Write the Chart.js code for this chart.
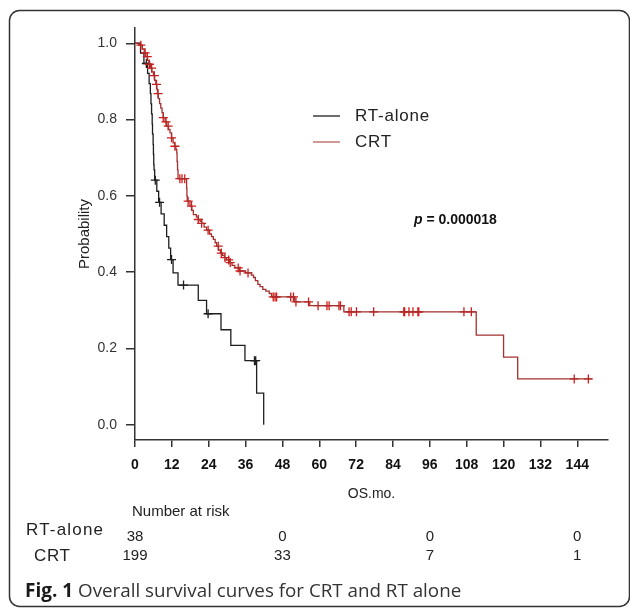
<!DOCTYPE html>
<html><head><meta charset="utf-8">
<script src="https://cdn.jsdelivr.net/npm/chart.js@4"></script>
<style>html,body{margin:0;padding:0;background:#fff;}canvas{display:block;}</style>
</head><body>
<canvas id="c" width="630" height="609"></canvas>
<script>
// ---- data ----
const seriesNames = ['RT-alone', 'CRT'];

// RT-alone Kaplan-Meier steps (months, survival after step)
const rtTimes = [0, 1.8, 2.9, 4.1, 4.6, 5.0, 5.2, 5.4, 5.6, 5.7, 5.9, 6.0, 6.1, 6.2, 6.4, 7.1, 7.7, 8.5, 9.5, 10.3, 11.0, 11.6, 12.4, 14.0, 20.6, 23.3, 28.0, 31.2, 35.8, 39.6, 41.9];
const rtSurv  = [1.0, 0.974, 0.947, 0.921, 0.894, 0.868, 0.841, 0.815, 0.788, 0.762, 0.735, 0.709, 0.682, 0.668, 0.641, 0.612, 0.583, 0.553, 0.523, 0.493, 0.463, 0.433, 0.398, 0.366, 0.326, 0.291, 0.249, 0.208, 0.168, 0.083, 0.0];
const rtCensorTimes = [3.7, 6.6, 8.0, 11.9, 15.8, 23.8, 38.9, 39.3];

// CRT Kaplan-Meier steps
const crtTimes = [0, 1.2, 2.4, 3.0, 3.5, 4.1, 4.5, 5.0, 5.5, 6.0, 6.4, 6.8, 7.1, 7.3, 7.6, 8.0, 8.4, 8.8, 9.2, 9.8, 10.3, 10.9, 11.4, 11.9, 12.4, 12.9, 13.3, 13.6, 13.7, 13.85, 14.0, 16.8, 16.9, 17.0, 17.9, 18.5, 19.0, 20.0, 20.6, 21.2, 21.7, 22.5, 23.3, 24.3, 24.9, 25.5, 26.1, 26.6, 27.2, 27.8, 28.5, 29.1, 29.8, 30.8, 31.6, 32.5, 34.0, 36.0, 37.9, 38.6, 39.2, 40.0, 40.7, 41.6, 42.6, 43.7, 44.5, 52.0, 56.9, 68.0, 111.1, 120.0, 124.6, 148.8];
const crtSurv  = [1.0, 0.995, 0.985, 0.975, 0.965, 0.955, 0.945, 0.935, 0.925, 0.915, 0.903, 0.892, 0.880, 0.868, 0.855, 0.842, 0.830, 0.818, 0.805, 0.794, 0.783, 0.774, 0.765, 0.752, 0.739, 0.730, 0.722, 0.712, 0.690, 0.668, 0.645, 0.620, 0.600, 0.586, 0.573, 0.562, 0.551, 0.544, 0.538, 0.533, 0.528, 0.518, 0.510, 0.500, 0.493, 0.486, 0.477, 0.468, 0.458, 0.450, 0.444, 0.438, 0.432, 0.425, 0.418, 0.411, 0.403, 0.398, 0.392, 0.386, 0.378, 0.368, 0.362, 0.355, 0.350, 0.344, 0.335, 0.322, 0.312, 0.296, 0.235, 0.177, 0.120, 0.120];
const crtCensorTimes = [1.9, 3.3, 4.0, 4.7, 5.4, 6.3, 7.0, 7.5, 9.2, 10.1, 10.8, 11.9, 13.0, 14.6, 15.3, 16.2, 17.3, 18.4, 20.6, 21.7, 23.8, 27.1, 28.1, 29.3, 30.5, 31.0, 33.6, 34.2, 36.8, 45.0, 45.6, 46.1, 50.7, 51.6, 52.4, 56.5, 59.6, 62.5, 63.2, 66.4, 66.9, 69.7, 70.4, 72.1, 77.7, 87.5, 87.8, 89.2, 90.5, 92.1, 92.4, 107.1, 109.5, 143.0, 147.6];

const xTicks = [0, 12, 24, 36, 48, 60, 72, 84, 96, 108, 120, 132, 144];
const yTicks = [0, 0.2, 0.4, 0.6, 0.8, 1.0];

const riskTimes = [0, 48, 96, 144];
const riskRT  = [38, 0, 0, 0];
const riskCRT = [199, 33, 7, 1];

const pLabel = 'p';
const pValue = ' = 0.000018';
const captionBold = 'Fig. 1';
const captionText = ' Overall survival curves for CRT and RT alone';

// ---- helpers ----
function stepPoints(times, surv) { return times.map((t, i) => ({ x: t, y: surv[i] })); }
function survAt(times, surv, t) {
  let s = surv[0];
  for (let i = 0; i < times.length; i++) { if (times[i] <= t) s = surv[i]; else break; }
  return s;
}
function censorPoints(times, surv, ct) { return ct.map(t => ({ x: t, y: survAt(times, surv, t) })); }

const FONT = "'Liberation Sans', Arial, Helvetica, sans-serif";
const CAPFONT = "'Open Sans', 'Liberation Sans', sans-serif";
const RT_COLOR = '#1e1e1e';
const CRT_LINE = '#a3312f';
const CRT_MARK = '#d41a1a';

const annot = {
  id: 'annot',
  afterDraw(chart) {
    const ctx = chart.ctx;
    const xs = chart.scales.x;
    ctx.save();
    // frame
    ctx.strokeStyle = '#333';
    ctx.lineWidth = 1.5;
    ctx.beginPath();
    ctx.roundRect(9.5, 10.5, 620, 596, 10);
    ctx.stroke();

    // legend
    ctx.lineWidth = 1.3;
    ctx.strokeStyle = RT_COLOR;
    ctx.beginPath(); ctx.moveTo(313, 116); ctx.lineTo(340, 116); ctx.stroke();
    ctx.strokeStyle = '#b5625e';
    ctx.beginPath(); ctx.moveTo(313, 142); ctx.lineTo(340, 142); ctx.stroke();
    ctx.fillStyle = '#222';
    ctx.font = '17px ' + FONT;
    ctx.textAlign = 'left';
    ctx.textBaseline = 'middle';
    ctx.letterSpacing = '0.8px';
    ctx.fillText(seriesNames[0], 355, 116);
    ctx.fillText(seriesNames[1], 355, 142);
    ctx.letterSpacing = '0px';

    // p value
    ctx.fillStyle = '#111';
    ctx.font = 'italic bold 14px ' + FONT;
    ctx.fillText(pLabel, 414, 220);
    const pw = ctx.measureText(pLabel).width;
    ctx.font = 'bold 14px ' + FONT;
    ctx.fillText(pValue, 414 + pw, 220);

    // risk table
    ctx.fillStyle = '#222';
    ctx.font = '15px ' + FONT;
    ctx.fillText('Number at risk', 132, 512);
    ctx.font = '17px ' + FONT;
    ctx.letterSpacing = '1.2px';
    ctx.fillText(seriesNames[0], 26, 530);
    ctx.letterSpacing = '0.6px';
    ctx.fillText(seriesNames[1], 34, 556);
    ctx.letterSpacing = '0px';
    ctx.font = '15px ' + FONT;
    ctx.textAlign = 'center';
    riskTimes.forEach((t, i) => {
      const px = xs.getPixelForValue(t);
      ctx.fillText(String(riskRT[i]), px, 537);
      ctx.fillText(String(riskCRT[i]), px, 556);
    });

    // caption
    ctx.textAlign = 'left';
    ctx.fillStyle = '#1a1a1a';
    ctx.font = 'bold 19px ' + CAPFONT;
    ctx.fillText(captionBold, 25, 592);
    const cw = ctx.measureText(captionBold).width;
    ctx.fillStyle = '#333';
    ctx.font = '18.8px ' + CAPFONT;
    ctx.fillText(captionText, 25 + cw, 592);
    ctx.restore();
  }
};

new Chart(document.getElementById('c'), {
  type: 'scatter',
  data: {
    datasets: [
      { label: seriesNames[1], data: stepPoints(crtTimes, crtSurv), showLine: true, stepped: 'before',
        borderColor: CRT_LINE, borderWidth: 1.3, pointRadius: 0, fill: false },
      { label: seriesNames[1] + ' censored', data: censorPoints(crtTimes, crtSurv, crtCensorTimes), showLine: false,
        pointStyle: 'cross', pointRadius: 4.5, borderColor: CRT_MARK, pointBorderColor: CRT_MARK, pointBorderWidth: 1.3, backgroundColor: CRT_MARK },
      { label: seriesNames[0], data: stepPoints(rtTimes, rtSurv), showLine: true, stepped: 'before',
        borderColor: RT_COLOR, borderWidth: 1.3, pointRadius: 0, fill: false },
      { label: seriesNames[0] + ' censored', data: censorPoints(rtTimes, rtSurv, rtCensorTimes), showLine: false,
        pointStyle: 'cross', pointRadius: 4.5, borderColor: RT_COLOR, pointBorderColor: RT_COLOR, pointBorderWidth: 1.3, backgroundColor: RT_COLOR }
    ]
  },
  options: {
    responsive: false,
    animation: false,
    devicePixelRatio: 1,
    layout: { padding: { left: 0, top: 28, right: 22, bottom: 0 } },
    plugins: { legend: { display: false }, tooltip: { enabled: false } },
    scales: {
      x: {
        type: 'linear', min: 0, max: 154,
        afterBuildTicks: s => { s.ticks = xTicks.map(v => ({ value: v })); },
        afterFit: s => { s.height = 169; },
        grid: { drawOnChartArea: false, drawTicks: true, tickLength: 7, color: '#333', lineWidth: 1.5 },
        border: { display: true, color: '#333', width: 1.5 },
        ticks: { padding: 10, color: '#111', autoSkip: false, maxRotation: 0,
                 font: { family: FONT, size: 14, weight: 'bold' }, callback: v => String(v) },
        title: { display: true, text: 'OS.mo.', color: '#222', font: { family: FONT, size: 14 },
                 padding: { top: 0, bottom: 106 } }
      },
      y: {
        type: 'linear', min: -0.04, max: 1.04,
        afterBuildTicks: s => { s.ticks = yTicks.map(v => ({ value: v })); },
        afterFit: s => { s.width = 135; },
        grid: { drawOnChartArea: false, drawTicks: true, tickLength: 9, color: '#333', lineWidth: 1.5 },
        border: { display: true, color: '#333', width: 1.5 },
        ticks: { padding: 9, color: '#333', font: { family: FONT, size: 14 }, callback: v => Number(v).toFixed(1) },
        title: { display: true, text: 'Probability', color: '#222', font: { family: FONT, size: 15 },
                 padding: { top: 76, bottom: 0 } }
      }
    }
  },
  plugins: [annot]
});
</script>
</body></html>
